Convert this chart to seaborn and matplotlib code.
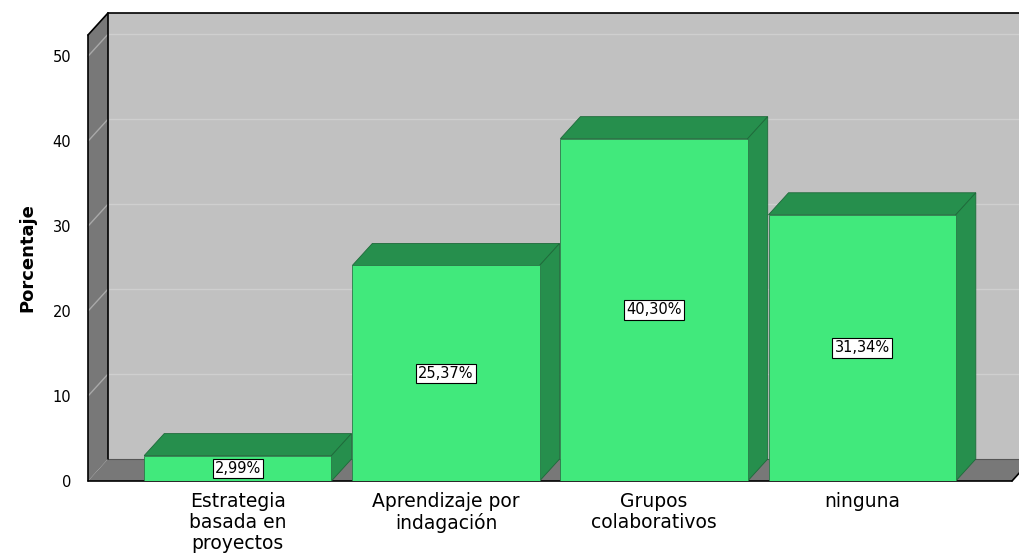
import matplotlib
matplotlib.use("Agg")
import matplotlib.pyplot as plt
import seaborn as sns
from matplotlib.patches import Polygon

# data
categories = ["Estrategia\nbasada en\nproyectos", "Aprendizaje por\nindagación",
              "Grupos\ncolaborativos", "ninguna"]
values = [2.99, 25.37, 40.30, 31.34]
yticks = [0, 10, 20, 30, 40, 50]

front_col = "#41e97c"
dark_col = "#268f4d"
wall_col = "#c1c1c1"
side_col = "#787878"

sns.set_style("white")
plt.rcParams["font.family"] = ["DejaVu Sans"]
plt.rcParams["text.color"] = "black"
plt.rcParams["xtick.color"] = "black"
plt.rcParams["ytick.color"] = "black"
plt.rcParams["axes.labelcolor"] = "black"

fig = plt.figure(figsize=(10.2, 5.58), dpi=100)
ax = fig.add_axes([88 / 1020, 77 / 558, 924 / 1020, 446 / 558])
ax.patch.set_alpha(0)

sns.barplot(x=list(range(len(values))), y=values, color=front_col, saturation=1,
            width=0.9, edgecolor="#2a7a48", linewidth=0.6, ax=ax, zorder=2)

x0, x1 = -0.72, 3.72
ymax = 52.5
ax.set_xlim(x0, x1)
ax.set_ylim(0, ymax)

# depth offset (20 px right, 22 px up) in data units
p0 = ax.transData.transform((0, 0))
p1 = ax.transData.transform((1, 1))
dx = 20 / (p1[0] - p0[0])
dy = 22 / (p1[1] - p0[1])
ext = 0.3

# back wall, left wall, floor
ax.add_patch(Polygon([(x0 + dx, dy), (x1 + dx + ext, dy), (x1 + dx + ext, ymax + dy),
                      (x0 + dx, ymax + dy)], closed=True, fc=wall_col, ec="none",
                     zorder=0.1, clip_on=False))
ax.add_patch(Polygon([(x0, 0), (x0, ymax), (x0 + dx, ymax + dy), (x0 + dx, dy)],
                     closed=True, fc=side_col, ec="none", zorder=0.2, clip_on=False))
ax.add_patch(Polygon([(x0, 0), (x1, 0), (x1 + dx, dy), (x0 + dx, dy)],
                     closed=True, fc=side_col, ec="none", zorder=0.2, clip_on=False))

for t in yticks[1:]:
    ax.plot([x0 + dx, x1 + dx + ext], [t + dy, t + dy], color="#cfcfcf", lw=1,
            zorder=0.15, clip_on=False)
    ax.plot([x0, x0 + dx], [t, t + dy], color="#a9a9a9", lw=1, zorder=0.25, clip_on=False)

edges = [
    ([x0, x0], [0, ymax]),
    ([x0, x1], [0, 0]),
    ([x0, x0 + dx], [ymax, ymax + dy]),
    ([x0 + dx, x1 + dx + ext], [ymax + dy, ymax + dy]),
    ([x0 + dx, x0 + dx], [dy, ymax + dy]),
    ([x1, x1 + dx], [0, dy]),
]
for xs, ys in edges:
    ax.plot(xs, ys, color="black", lw=1.2, zorder=0.3, clip_on=False)
ax.plot([x0 + dx, x1 + dx + ext], [dy, dy], color="#555555", lw=0.8, zorder=0.22,
        clip_on=False)

# 3D faces of the bars
for bar, v in zip(ax.patches, values):
    bx = bar.get_x()
    bw = bar.get_width()
    top = [(bx, v), (bx + bw, v), (bx + bw + dx, v + dy), (bx + dx, v + dy)]
    side = [(bx + bw, 0), (bx + bw, v), (bx + bw + dx, v + dy), (bx + bw + dx, dy)]
    for pts in (top, side):
        ax.add_patch(Polygon(pts, closed=True, fc=dark_col, ec="#1e6a3a", lw=0.6,
                             zorder=1.5, clip_on=False))
    ax.text(bx + bw / 2, v / 2, f"{v:.2f}%".replace(".", ","), ha="center", va="center",
            fontsize=10.5, zorder=3,
            bbox=dict(boxstyle="square,pad=0.15", fc="white", ec="black", lw=0.8))

ax.set_yticks(yticks)
ax.set_yticklabels([str(t) for t in yticks], fontsize=10.5)
ax.set_xticks(range(len(categories)))
ax.set_xticklabels(categories, fontsize=13.5, linespacing=1.12)
ax.tick_params(axis="y", length=0, pad=12)
ax.tick_params(axis="x", length=0, pad=8)
ax.set_ylabel("Porcentaje", fontsize=13, fontweight="bold", labelpad=12)
for s in ax.spines.values():
    s.set_visible(False)

fig.savefig("out.png", dpi=100)
